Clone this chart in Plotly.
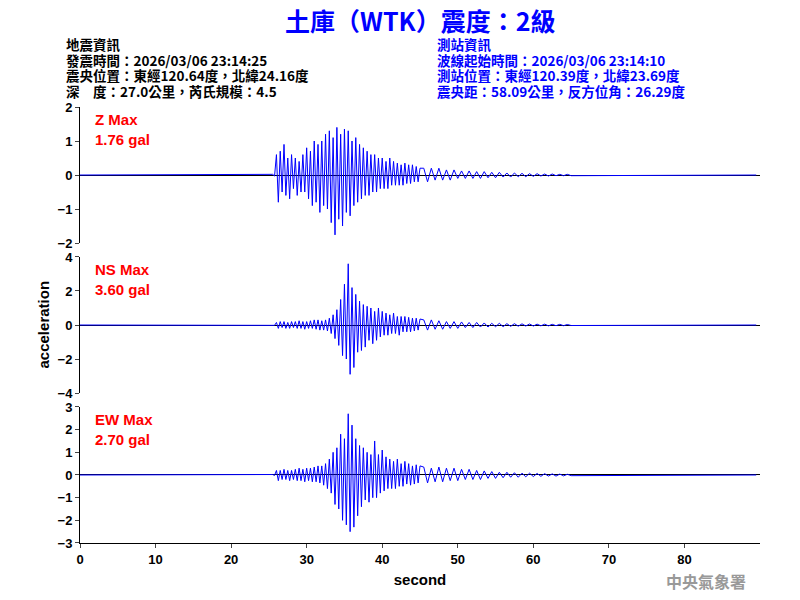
import numpy as np
import plotly.graph_objects as go
from plotly.subplots import make_subplots

z_a = [0.02,-0.03,0.6,-0.8,0.7,-0.5,0.9,-0.6,0.5,-0.7,0.6,-0.4,0.5,-0.6,0.4,-0.5,0.6,-0.5,0.8,-0.7,
0.7,-0.9,1.0,-0.8,0.9,-1.1,1.0,-0.9,1.2,-1.0,1.3,-1.4,1.1,-1.76,1.4,-1.3,1.2,-1.5,1.35,-1.1,
1.3,-1.2,1.0,-0.9,1.1,-0.8,0.9,-0.7,0.8,-0.6,0.7,-0.6,0.6,-0.5,0.6,-0.5,0.5,-0.4,0.5,-0.4,
0.4,-0.4,0.5,-0.3,0.4,-0.3,0.35,-0.3,0.3,-0.3,0.35,-0.25,0.3,-0.25,0.3,-0.2,0.25,-0.2,0.2]
z_b = [0.2,-0.2,0.2,-0.15,0.2,-0.15,0.15,-0.15,0.15,-0.1,0.12,-0.1,0.12,-0.1,0.1,-0.1,0.1,-0.08,0.08,-0.08,
0.08,-0.06,0.06,-0.06,0.06,-0.05,0.05,-0.05,0.04,-0.04,0.04,-0.03,0.03,-0.03,0.03,-0.02,0.02,-0.02,0.02,-0.02]
ns_a = [0.02,-0.02,0.15,-0.2,0.2,-0.15,0.2,-0.2,0.15,-0.2,0.2,-0.15,0.2,-0.2,0.25,-0.2,0.2,-0.25,0.2,-0.2,
0.25,-0.2,0.3,-0.25,0.3,-0.3,0.25,-0.3,0.3,-0.35,0.4,-0.5,0.6,-0.8,0.9,-1.2,1.5,-1.8,2.4,-2.0,
3.6,-2.9,2.2,-2.5,1.8,-1.6,1.4,-1.5,1.2,-1.3,1.1,-0.9,1.0,-1.1,0.8,-0.9,1.0,-0.7,0.8,-0.6,
0.7,-0.6,0.6,-0.5,0.7,-0.5,0.5,-0.6,0.5,-0.4,0.5,-0.4,0.45,-0.4,0.4,-0.35,0.4,-0.3,0.35]
ns_b = [0.3,-0.3,0.3,-0.25,0.25,-0.25,0.2,-0.2,0.2,-0.2,0.18,-0.15,0.15,-0.15,0.15,-0.12,0.12,-0.12,0.1,-0.1,
0.1,-0.1,0.08,-0.08,0.08,-0.07,0.07,-0.06,0.06,-0.06,0.05,-0.05,0.05,-0.05,0.04,-0.04,0.04,-0.04,0.03,-0.03]
ew_a = [0.02,-0.02,0.2,-0.25,0.2,-0.2,0.25,-0.2,0.2,-0.25,0.2,-0.2,0.25,-0.25,0.3,-0.25,0.25,-0.3,0.3,-0.25,
0.3,-0.3,0.35,-0.3,0.4,-0.35,0.4,-0.45,0.5,-0.6,0.7,-0.8,1.0,-1.3,1.2,-1.5,1.8,-2.0,1.6,-2.2,
2.7,-2.5,2.2,-2.3,1.6,-1.8,1.3,-1.4,1.2,-1.1,1.0,-1.2,0.9,-1.0,1.5,-1.0,0.9,-0.8,1.1,-0.7,
0.8,-0.6,0.7,-0.6,0.6,-0.6,0.7,-0.5,0.5,-0.5,0.6,-0.4,0.5,-0.45,0.4,-0.4,0.45,-0.35,0.4]
ew_b = [0.35,-0.35,0.3,-0.3,0.35,-0.3,0.3,-0.25,0.3,-0.25,0.25,-0.2,0.25,-0.2,0.2,-0.2,0.18,-0.15,0.15,-0.15,
0.12,-0.12,0.12,-0.1,0.1,-0.1,0.08,-0.08,0.08,-0.07,0.07,-0.06,0.06,-0.05,0.05,-0.05,0.04,-0.04,0.03,-0.03]

labels = ["Z Max<br>1.76 gal", "NS Max<br>3.60 gal", "EW Max<br>2.70 gal"]
ranges = [[-2, 2], [-4, 4], [-3, 3]]
tickvals = [[-2, -1, 0, 1, 2], [-4, -2, 0, 2, 4], [-3, -2, -1, 0, 1, 2, 3]]

def series(a, b):
    ta = 25.5 + 0.25 * np.arange(len(a))
    tb = 45.5 + 0.5 * np.arange(len(b))
    t = np.concatenate([[0, 25.25], ta, tb, [89.5]])
    v = np.concatenate([[0, 0], a, b, [0]])
    return t, v

OFF = 8
L, R, T, B = 80, 760, 107, 543
fig = make_subplots(rows=3, cols=1, shared_xaxes=True)
doms = [[0.688, 1.0], [0.344, 0.656], [0.0, 0.312]]
for i, (a, b) in enumerate([(z_a, z_b), (ns_a, ns_b), (ew_a, ew_b)]):
    t, v = series(a, b)
    fig.add_trace(go.Scatter(x=t, y=v, mode="lines", line=dict(color="blue", width=1),
                             showlegend=False), row=i+1, col=1)
    fig.update_yaxes(range=ranges[i], tickvals=tickvals[i], domain=doms[i], showline=True,
                     linecolor="black", ticks="outside", ticklen=4, showgrid=False, zeroline=True,
                     zerolinecolor="black", zerolinewidth=1, row=i+1, col=1)
    fig.add_annotation(text="<b>" + labels[i] + "</b>", xref="paper", yref="paper", x=(93-L)/(R-L),
                       y=doms[i][1]-0.005, xanchor="left", yanchor="top", showarrow=False, align="left",
                       font=dict(color="red", size=15, family="Arial"))
for i in range(3):
    fig.update_xaxes(range=[0, 90], showgrid=False, zeroline=False,
                     tickvals=[0,10,20,30,40,50,60,70,80], row=i+1, col=1)
fig.update_xaxes(showline=True, linecolor="black", ticks="outside", ticklen=4, row=3, col=1,
                 title=dict(text="<b>second</b>", font=dict(size=15), standoff=8))

def py(p):
    return (B - p) / (B - T)
def px(p):
    return (p - L) / (R - L)

fig.add_annotation(text="<b>土庫（WTK）震度：2級</b>", xref="paper", yref="paper", x=0.5, y=py(20),
                   yanchor="middle", showarrow=False,
                   font=dict(color="blue", size=25, family="Noto Sans CJK TC"))
left = ["地震資訊", "發震時間：2026/03/06 23:14:25", "震央位置：東經120.64度，北緯24.16度", "深　度：27.0公里，芮氏規模：4.5"]
right = ["測站資訊", "波線起始時間：2026/03/06 23:14:10", "測站位置：東經120.39度，北緯23.69度", "震央距：58.09公里，反方位角：26.29度"]
for j, (l, r) in enumerate(zip(left, right)):
    yy = py(44 + j * 15.7)
    fig.add_annotation(text="<b>" + l + "</b>", xref="paper", yref="paper", x=px(64), y=yy, xanchor="left",
                       yanchor="middle", showarrow=False,
                       font=dict(color="black", size=13.5, family="Noto Sans CJK TC"))
    fig.add_annotation(text="<b>" + r + "</b>", xref="paper", yref="paper", x=px(435), y=yy, xanchor="left",
                       yanchor="middle", showarrow=False,
                       font=dict(color="blue", size=13.5, family="Noto Sans CJK TC"))
fig.add_annotation(text="<b>acceleration</b>", xref="paper", yref="paper", x=px(32), y=0.5, textangle=-90,
                   showarrow=False, font=dict(size=15, color="black"))
fig.add_annotation(text="<b>中央氣象署</b>", xref="paper", yref="paper", x=px(748), y=py(581),
                   xanchor="right", yanchor="middle", showarrow=False,
                   font=dict(size=16, color="#999999", family="Noto Sans CJK TC"))

fig.update_layout(width=800, height=600,
                  margin=dict(l=L-OFF, r=800-R+OFF, t=T-OFF, b=600-B+OFF),
                  plot_bgcolor="white", paper_bgcolor="white",
                  font=dict(family="Arial", size=13, color="black", weight="bold"))
fig.write_html("out.html")
